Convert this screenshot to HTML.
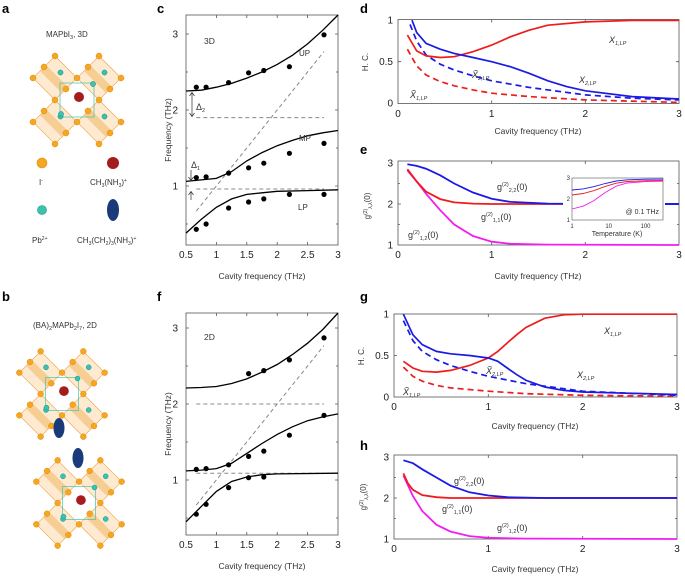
<!DOCTYPE html>
<html><head><meta charset="utf-8"><style>
html,body{margin:0;padding:0;background:#fff}
svg{display:block;font-family:"Liberation Sans",sans-serif}
</style></head><body>
<svg width="685" height="576" viewBox="0 0 685 576" xmlns="http://www.w3.org/2000/svg">
<defs>
<g id="cr">
<g fill="#fde6c8" fill-opacity="0.85" stroke="#f0a040" stroke-width="0.6">
<polygon points="-22,-44 0,-22 -22,0 -44,-22"/>
<polygon points="22,-44 44,-22 22,0 0,-22"/>
<polygon points="-22,0 0,22 -22,44 -44,22"/>
<polygon points="22,0 44,22 22,44 0,22"/>
</g>
<g fill="#f2c27a" fill-opacity="0.7">
<polygon points="-31,-35 -9,-13 -15,-7 -37,-29"/>
<polygon points="13,-35 35,-13 29,-7 7,-29"/>
<polygon points="-31,9 -9,31 -15,37 -37,15"/>
<polygon points="13,9 35,31 29,37 7,15"/>
</g>
<rect x="-17" y="-17" width="34" height="34" fill="none" stroke="#3cc3b0" stroke-width="0.7"/>
<g fill="#3cc3b0" stroke="#1a8f80" stroke-width="0.5">
<circle cx="-16.5" cy="-27.5" r="2.6"/><circle cx="27.5" cy="-27.5" r="2.6"/><circle cx="-16.5" cy="16.5" r="2.6"/><circle cx="27.5" cy="16.5" r="2.6"/>
<circle cx="-16" cy="14" r="2.6"/><circle cx="16" cy="-16" r="2.6"/>
</g>
<g fill="#f5a623" stroke="#e08a00" stroke-width="0.5">
<circle cx="-22" cy="-44" r="3"/><circle cx="22" cy="-44" r="3"/><circle cx="-44" cy="-22" r="3"/><circle cx="0" cy="-22" r="3"/><circle cx="44" cy="-22" r="3"/><circle cx="-22" cy="0" r="3"/><circle cx="22" cy="0" r="3"/><circle cx="-44" cy="22" r="3"/><circle cx="0" cy="22" r="3"/><circle cx="44" cy="22" r="3"/><circle cx="-22" cy="44" r="3"/><circle cx="22" cy="44" r="3"/>
<circle cx="-33" cy="-33" r="3"/><circle cx="-11" cy="-11" r="3"/><circle cx="11" cy="-33" r="3"/><circle cx="33" cy="-11" r="3"/><circle cx="-33" cy="11" r="3"/><circle cx="-11" cy="33" r="3"/><circle cx="11" cy="11" r="3"/><circle cx="33" cy="33" r="3"/>
</g>
<circle cx="2" cy="-3" r="5" fill="#a51c1c"/>
</g>
</defs>
<g font-weight="bold" font-size="13" fill="#000">
<text x="2" y="13">a</text><text x="2" y="301">b</text>
<text x="157" y="13">c</text><text x="157" y="301">f</text>
<text x="360" y="13">d</text><text x="360" y="154">e</text>
<text x="360" y="301">g</text><text x="360" y="450">h</text>
</g>
<g font-size="8" fill="#333">
<text x="46" y="37">MAPbI<tspan font-size="5.5" dy="2">3</tspan><tspan dy="-2">, 3D</tspan></text>
<text x="33" y="328">(BA)<tspan font-size="5.5" dy="2">2</tspan><tspan dy="-2">MAPb</tspan><tspan font-size="5.5" dy="2">2</tspan><tspan dy="-2">I</tspan><tspan font-size="5.5" dy="2">7</tspan><tspan dy="-2">, 2D</tspan></text>
<text x="39" y="185">I<tspan font-size="5" dy="-3">-</tspan></text>
<text x="90" y="185">CH<tspan font-size="5" dy="2">3</tspan><tspan dy="-2">(NH</tspan><tspan font-size="5" dy="2">3</tspan><tspan dy="-2">)</tspan><tspan font-size="5" dy="-3">+</tspan></text>
<text x="32" y="243">Pb<tspan font-size="5" dy="-3">2+</tspan></text>
<text x="77" y="243">CH<tspan font-size="5" dy="2">3</tspan><tspan dy="-2">(CH</tspan><tspan font-size="5" dy="2">2</tspan><tspan dy="-2">)</tspan><tspan font-size="5" dy="2">3</tspan><tspan dy="-2">(NH</tspan><tspan font-size="5" dy="2">3</tspan><tspan dy="-2">)</tspan><tspan font-size="5" dy="-3">+</tspan></text>
</g>
<circle cx="42" cy="163" r="5" fill="#f5a623" stroke="#e08a00" stroke-width="0.6"/>
<circle cx="113" cy="163" r="6" fill="#a51c1c"/>
<circle cx="42" cy="210" r="4.5" fill="#3cc3b0" stroke="#1a8f80" stroke-width="0.6"/>
<ellipse cx="113" cy="210" rx="6" ry="11" fill="#1b3a7a"/>
<use href="#cr" transform="translate(77,100)"/>
<use href="#cr" transform="translate(62,394) scale(0.97)"/>
<use href="#cr" transform="translate(79,503) scale(0.97)"/>
<ellipse cx="59" cy="428" rx="5.5" ry="10" fill="#1b3a7a"/>
<ellipse cx="78" cy="458" rx="5.5" ry="10" fill="#1b3a7a"/>

<!-- ===== panel c ===== -->
<g stroke="#555" stroke-width="0.8" fill="none">
<rect x="186" y="15" width="152" height="230"/>
<path d="M216.4,245v-3M246.8,245v-3M277.2,245v-3M307.6,245v-3M216.4,15v3M246.8,15v3M277.2,15v3M307.6,15v3M186,186h3M186,110h3M186,34h3M186,224h2M186,148h2M186,72h2M338,186h-3M338,110h-3M338,34h-3M338,224h-2M338,148h-2M338,72h-2"/>
</g>
<g font-size="10" fill="#222" text-anchor="middle">
<text x="186" y="258">0.5</text><text x="216.4" y="258">1</text><text x="246.8" y="258">1.5</text><text x="277.2" y="258">2</text><text x="307.6" y="258">2.5</text><text x="338" y="258">3</text>
<text x="178" y="189.5" text-anchor="end">1</text><text x="178" y="113.5" text-anchor="end">2</text><text x="178" y="37.5" text-anchor="end">3</text>
</g>
<g stroke="#888" stroke-width="1" stroke-dasharray="4,3" fill="none">
<path d="M196.3,211.1L324,51.5M196.3,117.6H324M196.3,189H324"/>
</g>
<g stroke="#000" stroke-width="1.3" fill="none">
<polyline points="186,91 201.2,90.2 216.4,87.2 231.6,83.4 246.8,78.1 262,72 277.2,64.4 292.4,55.3 307.6,43.9 322.8,30.2 334,19 338,15"/>
<polyline points="186,181.4 201.2,179.9 216.4,178.4 231.6,171.6 246.8,160.9 262,152.6 277.2,145.7 292.4,140.4 307.6,135.8 322.8,132.8 338,130.5"/>
<polyline points="186,233.1 201.2,219.4 216.4,207.3 231.6,198.9 246.8,194.4 262,192.8 277.2,191.3 307.6,190.6 338,189.8"/>
</g>
<g fill="#000">
<circle cx="196.3" cy="87.2" r="2.6"/><circle cx="206.1" cy="87.2" r="2.6"/><circle cx="228.6" cy="82.6" r="2.6"/><circle cx="248.6" cy="72.8" r="2.6"/><circle cx="263.8" cy="70.5" r="2.6"/><circle cx="289.4" cy="66.7" r="2.6"/><circle cx="324" cy="34.8" r="2.6"/>
<circle cx="196.3" cy="177.6" r="2.6"/><circle cx="206.1" cy="176.9" r="2.6"/><circle cx="228.6" cy="173.1" r="2.6"/><circle cx="248.6" cy="167.8" r="2.6"/><circle cx="263.8" cy="163.2" r="2.6"/><circle cx="289.4" cy="153.3" r="2.6"/><circle cx="324" cy="143.4" r="2.6"/>
<circle cx="196.3" cy="229.3" r="2.6"/><circle cx="206.1" cy="224" r="2.6"/><circle cx="228.6" cy="208" r="2.6"/><circle cx="248.6" cy="202" r="2.6"/><circle cx="263.8" cy="198.9" r="2.6"/><circle cx="289.4" cy="194.4" r="2.6"/><circle cx="324" cy="194.4" r="2.6"/>
</g>
<g font-size="8.5" fill="#333">
<text x="204" y="44">3D</text><text x="299" y="56" font-size="8">UP</text><text x="299" y="141" font-size="8">MP</text><text x="298" y="210" font-size="8">LP</text>
<text x="196" y="110" font-size="9">Δ<tspan font-size="5.5" dy="2">2</tspan></text>
<text x="191" y="168" font-size="9">Δ<tspan font-size="5.5" dy="2">1</tspan></text>
<text x="262" y="279" text-anchor="middle">Cavity frequency (THz)</text>
<text transform="translate(184,130) rotate(-90)" text-anchor="middle" dy="-13">Frequency (THz)</text>
</g>
<g stroke="#444" stroke-width="0.8" fill="none">
<path d="M192,93V116M189.5,96L192,92.5L194.5,96M189.5,113L192,116.5L194.5,113"/>
<path d="M191,170V180M188.5,177L191,180.5L193.5,177M191,192V200M188.5,195L191,191.5L193.5,195"/>
</g>

<!-- ===== panel f ===== -->
<g stroke="#555" stroke-width="0.8" fill="none">
<rect x="186" y="313" width="152" height="222"/>
<path d="M216.4,535v-3M246.8,535v-3M277.2,535v-3M307.6,535v-3M216.4,313v3M246.8,313v3M277.2,313v3M307.6,313v3M186,480h3M186,404h3M186,328h3M186,518h2M186,442h2M186,366h2M338,480h-3M338,404h-3M338,328h-3M338,518h-2M338,442h-2M338,366h-2"/>
</g>
<g font-size="10" fill="#222" text-anchor="middle">
<text x="186" y="548">0.5</text><text x="216.4" y="548">1</text><text x="246.8" y="548">1.5</text><text x="277.2" y="548">2</text><text x="307.6" y="548">2.5</text><text x="338" y="548">3</text>
<text x="178" y="483.5" text-anchor="end">1</text><text x="178" y="407.5" text-anchor="end">2</text><text x="178" y="331.5" text-anchor="end">3</text>
</g>
<g stroke="#888" stroke-width="1" stroke-dasharray="4,3" fill="none">
<path d="M196.3,505.1L324,345.5M196.3,404H324M196.3,473.2H324"/>
</g>
<g stroke="#000" stroke-width="1.3" fill="none">
<polyline points="186,388 201.2,387.5 216.4,386.5 231.6,383.5 246.8,378.9 262,372.1 277.2,364.5 292.4,354.6 307.6,343.2 322.8,329.5 338,313"/>
<polyline points="186,470.9 201.2,470.1 216.4,468.6 231.6,463.3 246.8,453.4 262,443.5 277.2,434.4 292.4,426.8 307.6,420.7 322.8,416.9 338,413.9"/>
<polyline points="186,521.8 201.2,506.6 216.4,491.4 231.6,481.5 246.8,477 262,474.7 277.2,473.9 338,473.2"/>
</g>
<g fill="#000">
<circle cx="248.6" cy="373.6" r="2.6"/><circle cx="263.8" cy="370.6" r="2.6"/><circle cx="289.4" cy="359.9" r="2.6"/><circle cx="324" cy="337.9" r="2.6"/>
<circle cx="196.3" cy="469.4" r="2.6"/><circle cx="206.1" cy="468.6" r="2.6"/><circle cx="228.6" cy="464.8" r="2.6"/><circle cx="248.6" cy="456.4" r="2.6"/><circle cx="263.8" cy="451.1" r="2.6"/><circle cx="289.4" cy="435.2" r="2.6"/><circle cx="324" cy="415.4" r="2.6"/>
<circle cx="196.3" cy="514.2" r="2.6"/><circle cx="206.1" cy="504.3" r="2.6"/><circle cx="228.6" cy="487.6" r="2.6"/><circle cx="248.6" cy="477.7" r="2.6"/><circle cx="263.8" cy="477" r="2.6"/>
</g>
<g font-size="8.5" fill="#333">
<text x="204" y="340">2D</text>
<text x="262" y="569" text-anchor="middle">Cavity frequency (THz)</text>
<text transform="translate(184,424) rotate(-90)" text-anchor="middle" dy="-13">Frequency (THz)</text>
</g>

<!-- ===== panel d ===== -->
<g stroke="#555" stroke-width="0.8" fill="none">
<rect x="398" y="19.5" width="281" height="84"/>
<path d="M491.7,103.5v-3M585.3,103.5v-3M491.7,19.5v3M585.3,19.5v3M398,61.7h3M679,61.7h-3"/>
</g>
<g font-size="10" fill="#222" text-anchor="middle">
<text x="398" y="117">0</text><text x="491.7" y="117">1</text><text x="585.3" y="117">2</text><text x="679" y="117">3</text>
<text x="393" y="106.7" text-anchor="end">0</text><text x="393" y="65.2" text-anchor="end">0.5</text><text x="393" y="23.7" text-anchor="end">1</text>
</g>
<g fill="none" stroke-width="1.7">
<polyline stroke="#ee1c1c" stroke-dasharray="6,4" points="407.4,49.2 416.7,65.9 426.1,75 440.2,81.6 454.2,85.8 473,89.9 491.7,93.2 529.1,96.6 585.3,99.9 679,102.4"/>
<polyline stroke="#1a1ae6" stroke-dasharray="6,4" points="410,24.4 416.7,41 426.1,55 440.2,64.2 454.2,70 473,75.8 491.7,80.8 529.1,87.4 585.3,94.9 632.2,98.2 679,99.9"/>
<polyline stroke="#ee1c1c" points="407.4,35.1 416.7,50.9 426.1,55.9 440.2,57.5 454.2,56.7 473,51.7 491.7,45.1 510.4,36.8 529.1,30.2 547.9,25.2 585.3,21.9 632.2,20.4 679,20.4"/>
<polyline stroke="#1a1ae6" points="412,20.2 416.7,32.6 426.1,43.4 440.2,49.2 454.2,53.4 473,57.5 491.7,61.7 510.4,66.7 529.1,73.3 547.9,80.8 566.6,86.6 585.3,90.8 632.2,96.6 679,99"/>
</g>
<g font-size="9" fill="#333" font-style="italic">
<text x="609" y="43">X<tspan font-size="5.5" dy="2">1,LP</tspan></text>
<text x="579" y="83">X<tspan font-size="5.5" dy="2">2,LP</tspan></text>
<text x="472" y="78">X̃<tspan font-size="5.5" dy="2">2,LP</tspan></text>
<text x="410" y="98">X̃<tspan font-size="5.5" dy="2">1,LP</tspan></text>
</g>
<g font-size="8.5" fill="#333">
<text x="538" y="134" text-anchor="middle">Cavity frequency (THz)</text>
<text transform="translate(368,62) rotate(-90)" text-anchor="middle" font-size="8">H. C.</text>
</g>

<!-- ===== panel e ===== -->
<g stroke="#555" stroke-width="0.8" fill="none">
<rect x="398" y="161" width="281" height="84"/>
<path d="M491.7,245v-3M585.3,245v-3M491.7,161v3M585.3,161v3M398,204h3M679,204h-3M398,224.5h2M398,183.5h2M679,224.5h-2M679,183.5h-2"/>
</g>
<g font-size="10" fill="#222" text-anchor="middle">
<text x="398" y="258">0</text><text x="491.7" y="258">1</text><text x="585.3" y="258">2</text><text x="679" y="258">3</text>
<text x="393" y="248.5" text-anchor="end">1</text><text x="393" y="207.5" text-anchor="end">2</text><text x="393" y="166.5" text-anchor="end">3</text>
</g>
<g fill="none" stroke-width="1.8">
<polyline stroke="#f01ef0" points="407.4,170.4 416.7,181.5 426.1,193.8 440.2,210.2 454.2,224.5 473,236 491.7,241.7 510.4,243.8 547.9,244.6 679,245"/>
<polyline stroke="#ee1c1c" points="407.4,169.2 416.7,181.5 426.1,191.7 440.2,199.1 454.2,202.4 473,203.6 491.7,204 679,204"/>
<polyline stroke="#1a1ae6" points="407.4,164.2 416.7,165.9 426.1,168.7 440.2,175.3 454.2,183.5 473,192.5 491.7,198.7 510.4,201.9 547.9,203.6 679,204"/>
</g>
<g font-size="9" fill="#333">
<text x="497" y="190">g<tspan font-size="5.5" dy="-4">(2)</tspan><tspan font-size="5.5" dy="6">2,2</tspan><tspan dy="-2">(0)</tspan></text>
<text x="481" y="220">g<tspan font-size="5.5" dy="-4">(2)</tspan><tspan font-size="5.5" dy="6">1,1</tspan><tspan dy="-2">(0)</tspan></text>
<text x="408" y="238">g<tspan font-size="5.5" dy="-4">(2)</tspan><tspan font-size="5.5" dy="6">1,2</tspan><tspan dy="-2">(0)</tspan></text>
<text x="538" y="279" text-anchor="middle" font-size="8.5">Cavity frequency (THz)</text>
<text transform="translate(370,206) rotate(-90)" text-anchor="middle" font-size="8">g<tspan font-size="5" dy="-3">(2)</tspan><tspan font-size="5" dy="5">λ,λ</tspan><tspan dy="-2">(0)</tspan></text>
</g>
<!-- inset -->
<rect x="563" y="175" width="102" height="64" fill="#fff"/>
<rect x="572" y="178" width="91" height="42" fill="none" stroke="#555" stroke-width="0.6"/>
<g fill="none" stroke-width="0.9">
<polyline stroke="#1a1ae6" points="572,190 583.1,188.9 594.1,186.6 605.2,183.5 616.2,181 627.3,179.8 645.5,179.2 663,179.05"/>
<polyline stroke="#ee1c1c" points="572,195 583.1,193.5 594.1,190.6 605.2,186.4 616.2,183.2 627.3,181.5 645.5,180.7 663,180.5"/>
<polyline stroke="#f01ef0" points="572,209 583.1,206.2 594.1,200.5 605.2,192.5 616.2,186.2 627.3,183 645.5,181.5 663,181.2"/>
</g>
<g font-size="6" fill="#333">
<text x="572" y="228" text-anchor="middle">1</text><text x="608.7" y="228" text-anchor="middle">10</text><text x="645.5" y="228" text-anchor="middle">100</text>
<text x="570" y="222" text-anchor="end">1</text><text x="570" y="201" text-anchor="end">2</text><text x="570" y="180" text-anchor="end">3</text>
<text x="617" y="236" text-anchor="middle" font-size="7">Temperature (K)</text>
<text x="659" y="214" text-anchor="end" font-size="7">@ 0.1 THz</text>
</g>
<line x1="665" x2="679" y1="204" y2="204" stroke="#1a1ae6" stroke-width="1.8"/>

<!-- ===== panel g ===== -->
<g stroke="#555" stroke-width="0.8" fill="none">
<rect x="394" y="314" width="283" height="83"/>
<path d="M488.3,397v-3M582.7,397v-3M488.3,314v3M582.7,314v3M394,355.5h3M677,355.5h-3"/>
</g>
<g font-size="10" fill="#222" text-anchor="middle">
<text x="394" y="410">0</text><text x="488.3" y="410">1</text><text x="582.7" y="410">2</text><text x="677" y="410">3</text>
<text x="389" y="400.5" text-anchor="end">0</text><text x="389" y="359" text-anchor="end">0.5</text><text x="389" y="317.5" text-anchor="end">1</text>
</g>
<g fill="none" stroke-width="1.7">
<polyline stroke="#ee1c1c" stroke-dasharray="6,4" points="403.4,367.1 412.9,376.3 422.3,381.2 436.4,385.4 450.6,387.9 488.3,391.2 526.1,393.7 582.7,395.3 677,396.2"/>
<polyline stroke="#1a1ae6" stroke-dasharray="6,4" points="403.4,320.6 412.9,340.6 422.3,351.4 436.4,359.7 450.6,365.5 469.5,371.3 488.3,376.3 526.1,383.7 582.7,391.2 677,395.3"/>
<polyline stroke="#ee1c1c" points="403.4,361.3 412.9,368 422.3,371.3 436.4,372.1 450.6,370.4 469.5,365.5 488.3,358 497.8,351.4 507.2,343 516.6,334.8 526.1,327.3 544.9,318.2 563.8,314.8 582.7,314.2 677,314.2"/>
<polyline stroke="#1a1ae6" points="403.4,314.2 412.9,334.8 422.3,344.7 436.4,351.4 450.6,353.8 469.5,355.5 488.3,358 497.8,361.3 507.2,368 516.6,374.6 526.1,380.4 544.9,387 563.8,390.4 582.7,392 677,394.5"/>
</g>
<g font-size="9" fill="#333" font-style="italic">
<text x="604" y="334">X<tspan font-size="5.5" dy="2">1,LP</tspan></text>
<text x="577" y="378">X<tspan font-size="5.5" dy="2">2,LP</tspan></text>
<text x="486" y="374">X̃<tspan font-size="5.5" dy="2">2,LP</tspan></text>
<text x="403" y="395">X̃<tspan font-size="5.5" dy="2">1,LP</tspan></text>
</g>
<g font-size="8.5" fill="#333">
<text x="535" y="429" text-anchor="middle">Cavity frequency (THz)</text>
<text transform="translate(364,356) rotate(-90)" text-anchor="middle" font-size="8">H. C.</text>
</g>

<!-- ===== panel h ===== -->
<g stroke="#555" stroke-width="0.8" fill="none">
<rect x="394" y="455" width="283" height="84"/>
<path d="M488.3,539v-3M582.7,539v-3M488.3,455v3M582.7,455v3M394,498h3M677,498h-3M394,518.5h2M394,477.5h2M677,518.5h-2M677,477.5h-2"/>
</g>
<g font-size="10" fill="#222" text-anchor="middle">
<text x="394" y="552">0</text><text x="488.3" y="552">1</text><text x="582.7" y="552">2</text><text x="677" y="552">3</text>
<text x="389" y="542.5" text-anchor="end">1</text><text x="389" y="501.5" text-anchor="end">2</text><text x="389" y="460.5" text-anchor="end">3</text>
</g>
<g fill="none" stroke-width="1.8">
<polyline stroke="#f01ef0" points="403.4,475.5 412.9,496 422.3,511.1 436.4,524.7 450.6,531.6 469.5,536.1 488.3,537.8 526.1,538.6 677,539"/>
<polyline stroke="#ee1c1c" points="403.4,473.4 408.1,483.7 412.9,489.8 422.3,495.1 436.4,497.2 450.6,498 677,498"/>
<polyline stroke="#1a1ae6" points="403.4,460.3 412.9,463.2 422.3,469.3 436.4,477.5 450.6,485.7 469.5,492.3 488.3,495.5 507.2,497.2 544.9,498 677,498"/>
</g>
<g font-size="9" fill="#333">
<text x="454" y="484">g<tspan font-size="5.5" dy="-4">(2)</tspan><tspan font-size="5.5" dy="6">2,2</tspan><tspan dy="-2">(0)</tspan></text>
<text x="442" y="512">g<tspan font-size="5.5" dy="-4">(2)</tspan><tspan font-size="5.5" dy="6">1,1</tspan><tspan dy="-2">(0)</tspan></text>
<text x="497" y="531">g<tspan font-size="5.5" dy="-4">(2)</tspan><tspan font-size="5.5" dy="6">1,2</tspan><tspan dy="-2">(0)</tspan></text>
<text x="535" y="572" text-anchor="middle" font-size="8.5">Cavity frequency (THz)</text>
<text transform="translate(366,497) rotate(-90)" text-anchor="middle" font-size="8">g<tspan font-size="5" dy="-3">(2)</tspan><tspan font-size="5" dy="5">λ,λ</tspan><tspan dy="-2">(0)</tspan></text>
</g>
</svg>
</body></html>
